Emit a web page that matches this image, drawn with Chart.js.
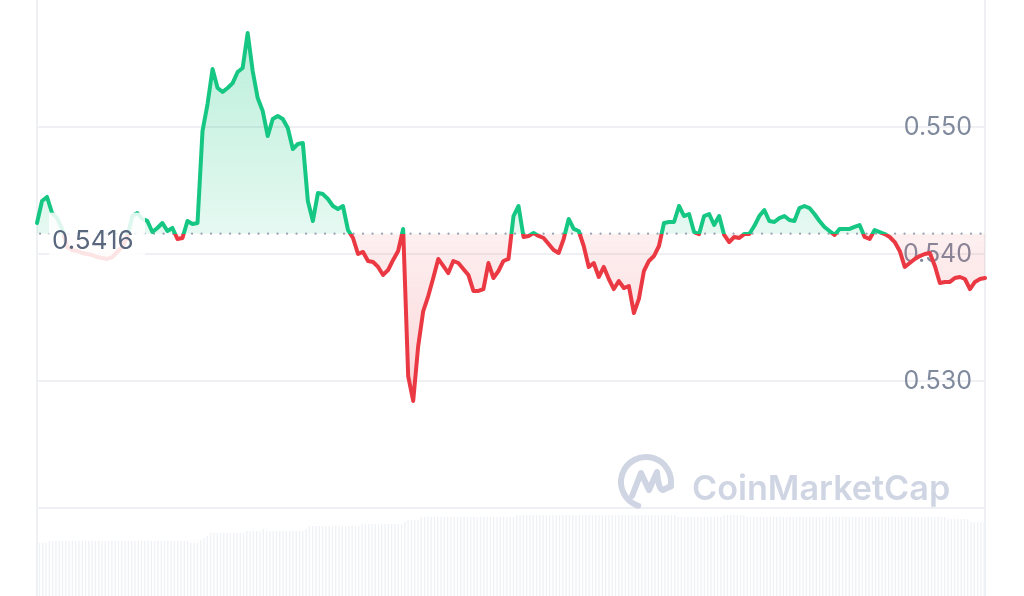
<!DOCTYPE html>
<html><head><meta charset="utf-8">
<script src="https://cdn.jsdelivr.net/npm/chart.js@4.4.1/dist/chart.umd.min.js"></script>
<style>html,body{margin:0;padding:0;background:#fff;overflow:hidden}#wrap{width:1024px;height:596px;position:relative}</style>
</head><body><div id="wrap"><canvas id="c"></canvas></div>
<script>
// ---- data ----
const baseline = 0.5416;
const priceValues = [
0.54244,0.54417,0.54449,0.54323,0.54283,0.54197,0.54055,0.54031,0.54024,0.54008,
0.54000,0.53992,0.53976,0.53969,0.53961,0.53976,0.54016,0.54055,0.54134,0.54299,
0.54323,0.54276,0.54260,0.54173,0.54205,0.54244,0.54181,0.54205,0.54118,0.54126,
0.54260,0.54236,0.54244,0.54969,0.55181,0.55457,0.55307,0.55276,0.55307,0.55346,
0.55433,0.55465,0.55740,0.55441,0.55228,0.55126,0.54929,0.55063,0.55087,0.55063,
0.54992,0.54827,0.54866,0.54874,0.54417,0.54260,0.54480,0.54472,0.54433,0.54378,
0.54354,0.54378,0.54189,0.54126,0.54000,0.54016,0.53945,0.53937,0.53898,0.53835,
0.53874,0.53953,0.54024,0.54197,0.53039,0.52843,0.53276,0.53551,0.53669,0.53811,
0.53961,0.53906,0.53850,0.53945,0.53929,0.53882,0.53835,0.53709,0.53709,0.53724,
0.53929,0.53811,0.53866,0.53945,0.53961,0.54299,0.54378,0.54134,0.54142,0.54165,
0.54142,0.54126,0.54079,0.54031,0.54008,0.54118,0.54276,0.54197,0.54181,0.54063,
0.53898,0.53929,0.53819,0.53898,0.53803,0.53724,0.53787,0.53732,0.53748,0.53535,
0.53646,0.53866,0.53945,0.53984,0.54063,0.54244,0.54252,0.54252,0.54378,0.54299,
0.54315,0.54173,0.54157,0.54299,0.54315,0.54228,0.54299,0.54150,0.54094,0.54134,
0.54126,0.54157,0.54157,0.54220,0.54299,0.54346,0.54260,0.54252,0.54283,0.54299,
0.54268,0.54260,0.54362,0.54378,0.54362,0.54315,0.54260,0.54213,0.54181,0.54150,
0.54197,0.54197,0.54197,0.54213,0.54228,0.54134,0.54118,0.54189,0.54173,0.54157,
0.54134,0.54094,0.54024,0.53898,0.53929,0.53961,0.53984,0.54000,0.54008,0.53906,
0.53772,0.53780,0.53780,0.53811,0.53819,0.53803,0.53724,0.53780,0.53803,0.53811
];
// 24h volume (millions), one bar per 5 minutes
const volumeValues = [
5.3,5.3,5.3,5.5,5.5,5.5,5.5,5.5,5.5,5.5,5.5,5.5,5.5,5.5,5.5,5.5,5.5,5.5,5.5,5.5,
5.5,5.5,5.5,5.5,5.5,5.5,5.5,5.5,5.5,5.5,5.5,5.5,5.5,5.5,5.5,5.5,5.5,5.5,5.5,5.5,
5.5,5.5,5.5,5.5,5.5,5.5,5.3,5.3,5.3,5.6,5.8,6.0,6.3,6.3,6.3,6.3,6.3,6.3,6.3,6.3,
6.3,6.3,6.3,6.5,6.5,6.5,6.5,6.5,6.7,6.5,6.5,6.5,6.5,6.5,6.5,6.5,6.5,6.5,6.5,6.5,
6.5,6.7,7.0,7.0,7.0,7.0,7.0,7.0,7.0,7.0,7.0,7.0,7.0,7.0,7.0,7.0,7.0,7.0,7.2,7.2,
7.2,7.2,7.2,7.2,7.2,7.2,7.2,7.2,7.2,7.2,7.2,7.4,7.6,7.6,7.6,7.6,7.9,7.9,7.9,7.9,
7.9,7.9,7.9,7.9,7.9,7.9,7.9,7.9,7.9,7.9,7.9,7.9,7.9,7.9,7.9,7.9,7.9,7.9,7.9,7.9,
7.9,7.9,7.9,7.9,7.9,8.1,8.1,8.1,8.1,8.1,8.1,8.1,8.1,8.1,8.1,8.1,8.1,8.1,8.1,8.1,
8.1,8.1,8.1,8.1,8.1,8.1,8.1,8.1,8.1,8.1,8.1,8.1,8.1,8.1,8.1,8.1,8.1,8.1,8.1,8.1,
8.1,8.1,8.1,8.1,8.1,8.1,8.1,8.1,8.1,8.1,8.1,8.1,8.1,8.1,7.9,7.9,7.9,7.9,7.9,7.9,
7.9,7.9,7.9,7.9,7.9,7.9,7.9,7.9,8.1,8.1,8.1,8.1,8.1,8.1,8.1,7.9,7.9,7.9,7.9,7.9,
7.9,7.9,7.9,7.9,7.9,7.9,7.9,7.9,7.9,7.9,7.9,7.9,7.9,7.9,7.9,7.9,7.9,7.9,7.9,7.9,
7.9,7.9,7.9,7.9,7.9,7.9,7.9,7.9,7.9,7.9,7.9,7.9,7.9,7.9,7.9,7.9,7.9,7.9,7.9,7.9,
7.9,7.9,7.9,7.9,7.9,7.9,7.9,7.9,7.9,7.9,7.9,7.9,7.9,7.9,7.9,7.9,7.7,7.7,7.7,7.7,
7.7,7.7,7.7,7.4,7.4,7.4,7.4,7.4
];
const priceTickValues = [0.52, 0.53, 0.54, 0.55, 0.56];
const priceTickLabels = ['', '0.530', '0.540', '0.550', ''];
const watermarkText = 'CoinMarketCap';

function timeLabel(i, n){ const m = Math.round(i * 1440 / n); return String(Math.floor(m/60)%24).padStart(2,'0') + ':' + String(m%60).padStart(2,'0'); }
const priceTimes = priceValues.map((_, i) => timeLabel(i, priceValues.length - 1));
const volumeTimes = volumeValues.map((_, i) => timeLabel(i, volumeValues.length));

const GREEN = '#16c784', RED = '#ea3943';
function basePix(chart){ return chart.scales.y.getPixelForValue(baseline); }
function lineGrad(chart){
  const {ctx, chartArea} = chart; if(!chartArea) return GREEN;
  const yb = basePix(chart); const h = chartArea.bottom - chartArea.top;
  const t = Math.min(1, Math.max(0, (yb - chartArea.top) / h));
  const g = ctx.createLinearGradient(0, chartArea.top, 0, chartArea.bottom);
  g.addColorStop(0, GREEN); g.addColorStop(t, GREEN); g.addColorStop(t, RED); g.addColorStop(1, RED);
  return g;
}
function fillGrad(chart){
  const {ctx, chartArea} = chart; if(!chartArea) return 'rgba(22,199,132,0.15)';
  const yb = basePix(chart); const h = chartArea.bottom - chartArea.top;
  const t = Math.min(1, Math.max(0, (yb - chartArea.top) / h));
  const g = ctx.createLinearGradient(0, chartArea.top, 0, chartArea.bottom);
  g.addColorStop(0, 'rgba(22,199,132,0.32)'); g.addColorStop(t, 'rgba(22,199,132,0.11)');
  g.addColorStop(t, 'rgba(234,57,67,0.08)'); g.addColorStop(1, 'rgba(234,57,67,0.36)');
  return g;
}

const deco = {
  id: 'deco',
  beforeDatasetsDraw(chart){
    const {ctx, chartArea} = chart;
    ctx.save();
    ctx.strokeStyle = '#eef0f3'; ctx.lineWidth = 2;
    ctx.beginPath();
    ctx.moveTo(chartArea.left, 0); ctx.lineTo(chartArea.left, chart.height);
    ctx.moveTo(chartArea.right, 0); ctx.lineTo(chartArea.right, chart.height);
    ctx.stroke();
    // watermark
    const wc = '#cfd5e3';
    ctx.strokeStyle = wc; ctx.fillStyle = wc; ctx.lineWidth = 6; ctx.lineCap = 'round'; ctx.lineJoin = 'round';
    const cx = 646, cy = 482, r = 25;
    ctx.beginPath(); ctx.arc(cx, cy, r, 0.6*Math.PI, 2.06*Math.PI); ctx.stroke();
    ctx.beginPath();
    ctx.moveTo(cx-14, cy+14); ctx.lineTo(cx-5, cy-9); ctx.lineTo(cx+3, cy+8); ctx.lineTo(cx+11, cy-10);
    ctx.quadraticCurveTo(cx+13, cy+12, cx+19, cy+7); ctx.lineTo(cx+25, cy+4);
    ctx.stroke();
    let fs = 36; ctx.font = '600 ' + fs + 'px Inter';
    const w = ctx.measureText(watermarkText).width; fs = fs * 258 / w;
    ctx.font = '600 ' + fs.toFixed(1) + 'px Inter'; ctx.textBaseline = 'alphabetic'; ctx.textAlign = 'left';
    ctx.fillText(watermarkText, 692, 500);
    ctx.restore();
  },
  beforeDatasetDraw(chart, args){
    if (args.index !== 0) return;
    const {ctx, chartArea} = chart; const yb = basePix(chart);
    ctx.save(); ctx.strokeStyle = '#9ba2b0'; ctx.lineWidth = 2.2; ctx.lineCap = 'round'; ctx.setLineDash([0.1, 9.4]);
    ctx.beginPath(); ctx.moveTo(chartArea.left + 3, yb); ctx.lineTo(chartArea.right, yb); ctx.stroke();
    ctx.restore();
  },
  afterDatasetsDraw(chart){
    const {ctx, chartArea} = chart; const yb = basePix(chart);
    ctx.save();
    ctx.fillStyle = 'rgba(255,255,255,0.86)';
    ctx.fillRect(chartArea.left + 12, yb - 21, 96, 50);
    ctx.fillStyle = '#58667e'; ctx.font = '26px Inter'; ctx.textBaseline = 'alphabetic'; ctx.textAlign = 'left';
    ctx.fillText(baseline.toFixed(4), chartArea.left + 15, yb + 15);
    ctx.restore();
  }
};

new Chart(document.getElementById('c'), {
  type: 'line',
  data: {
    datasets: [
      { type: 'line', data: priceValues, xAxisID: 'x', yAxisID: 'y', order: 1,
        borderWidth: 4, pointRadius: 0, tension: 0, borderJoinStyle: 'round', borderCapStyle: 'round',
        borderColor: c => lineGrad(c.chart), backgroundColor: c => fillGrad(c.chart),
        fill: { value: baseline } },
      { type: 'bar', data: volumeValues, xAxisID: 'xv', yAxisID: 'yv', order: 3,
        backgroundColor: '#eef1f5', barPercentage: 0.78, categoryPercentage: 1.0 }
    ]
  },
  options: {
    responsive: true, maintainAspectRatio: false, animation: false, devicePixelRatio: 1,
    layout: { padding: { left: 37, right: 39, top: 0, bottom: 0 } },
    plugins: { legend: { display: false }, tooltip: { enabled: false } },
    scales: {
      x: { type: 'category', labels: priceTimes, display: false, offset: false },
      xv: { type: 'category', labels: volumeTimes, display: false, offset: true },
      y: { position: 'right', min: 0.51307, max: 0.56,
        afterBuildTicks: s => { s.ticks = priceTickValues.map(v => ({ value: v })); },
        afterFit: s => { s.width = 0; s.paddingTop = 0; s.paddingBottom = 0; },
        grid: { color: c => (c.tick && c.tick.value > 0.5595) ? 'rgba(0,0,0,0)' : '#eef0f3', lineWidth: 2, drawTicks: false },
        border: { display: false },
        ticks: { mirror: true, padding: -13, color: '#808a9d', font: { family: 'Inter', size: 25 },
          callback: (v, i) => priceTickLabels[i] }
      },
      yv: { display: false, min: 0, max: 59.6 }
    }
  },
  plugins: [deco]
});
</script></body></html>
